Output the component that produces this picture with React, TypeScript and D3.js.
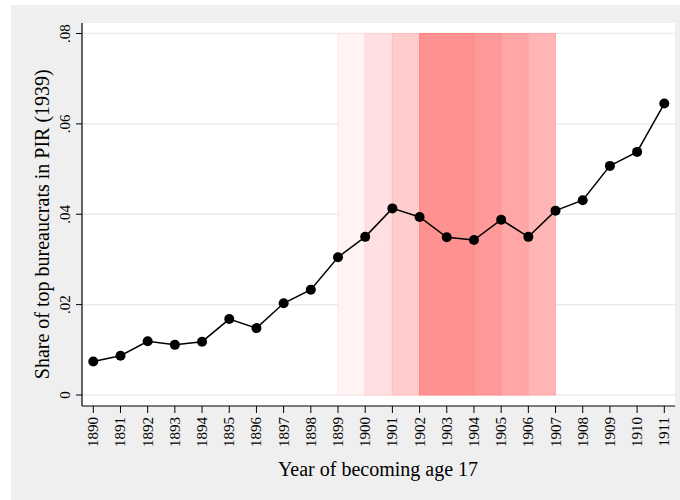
import React from 'react'
import * as d3 from 'd3'

// years on the x axis
const years = d3.range(1890, 1912)
// share of top bureaucrats in PIR (1939)
const shares = [
  0.0074, 0.0087, 0.0119, 0.0111, 0.0118, 0.0168, 0.0148, 0.0203, 0.0233, 0.0305, 0.035,
  0.0413, 0.0394, 0.0349, 0.0343, 0.0388, 0.035, 0.0408, 0.0431, 0.0507, 0.0538, 0.0645,
]
const yTicks = [0, 0.02, 0.04, 0.06, 0.08]
// shaded year bands
const bandFrom = [1899, 1900, 1901, 1902, 1904, 1905, 1906]
const bandTo = [1900, 1901, 1902, 1904, 1905, 1906, 1907]

const bandFill = ['#fff4f3', '#ffdfdf', '#ffcccc', '#ff9191', '#ff9898', '#ffa6a6', '#ffb5b5']
const bandStroke = ['#fde6e5', '#ffd2d2', '#ffbfbf', '#ff8585', '#ff8a8a', '#ff9898', '#ffa7a7']

const W = 680
const H = 500
const font = '"Liberation Serif", "Times New Roman", serif'

export default function App() {
  ///scales///
  const x = d3.scaleLinear().domain([1890, 1911]).range([93.3, 664.3])
  const y = d3.scaleLinear().domain([0, 0.08]).range([395, 33.5])

  const plotL = 82
  const plotR = 675
  const plotT = 23
  const plotB = 406

  const line = d3
    .line<number>()
    .x((d, i) => x(years[i]))
    .y(d => y(d))

  const fmt = (v: number) => (v === 0 ? '0' : d3.format('.2f')(v).replace(/^0/, ''))

  return (
    <svg
      width={W}
      height={H}
      style={{position: 'absolute', left: 0, top: 0}}
      fontFamily={font}
    >
      <rect x={0} y={0} width={W} height={H} fill="#ffffff" />
      <rect x={11} y={5} width={W - 11} height={H - 5} fill="#efefef" />
      <rect x={plotL} y={plotT} width={plotR - plotL} height={plotB - plotT} fill="#ffffff" />

      {/* grid lines */}
      {yTicks.map(t => (
        <line key={t} x1={plotL} x2={plotR} y1={y(t)} y2={y(t)} stroke="#eaeaea" strokeWidth={1.5} />
      ))}

      {/* shaded bands */}
      {bandFrom.map((b, i) => (
        <rect
          key={b}
          x={x(b)}
          y={y(0.08)}
          width={x(bandTo[i]) - x(b)}
          height={y(0) - y(0.08)}
          fill={bandFill[i]}
          stroke={bandStroke[i]}
          strokeWidth={1}
        />
      ))}

      {/* series */}
      <path d={line(shares) || ''} fill="none" stroke="#000" strokeWidth={1.5} />
      {shares.map((s, i) => (
        <circle key={years[i]} cx={x(years[i])} cy={y(s)} r={5} fill="#000" />
      ))}

      {/* axes */}
      <line x1={plotL} x2={plotL} y1={plotT} y2={plotB} stroke="#000" strokeWidth={1.2} />
      <line x1={plotL} x2={plotR} y1={plotB} y2={plotB} stroke="#000" strokeWidth={1.2} />
      {yTicks.map(t => (
        <g key={t}>
          <line x1={plotL - 6} x2={plotL} y1={y(t)} y2={y(t)} stroke="#000" strokeWidth={1} />
          <text
            transform={`translate(${plotL - 12},${y(t)}) rotate(-90)`}
            textAnchor="middle"
            fontSize={15}
            fill="#000"
          >
            {fmt(t)}
          </text>
        </g>
      ))}
      {years.map(yr => (
        <g key={yr}>
          <line x1={x(yr)} x2={x(yr)} y1={plotB} y2={plotB + 7} stroke="#000" strokeWidth={1} />
          <text
            transform={`translate(${x(yr) + 5},${plotB + 11}) rotate(-90)`}
            textAnchor="end"
            fontSize={15}
            fill="#000"
          >
            {yr}
          </text>
        </g>
      ))}

      {/* axis labels */}
      <text
        transform={`translate(49,${(y(0) + y(0.08)) / 2 + 10}) rotate(-90)`}
        textAnchor="middle"
        fontSize={20}
        fill="#000"
      >
        Share of top bureaucrats in PIR (1939)
      </text>
      <text x={378} y={476} textAnchor="middle" fontSize={20} fill="#000">
        Year of becoming age 17
      </text>
    </svg>
  )
}
